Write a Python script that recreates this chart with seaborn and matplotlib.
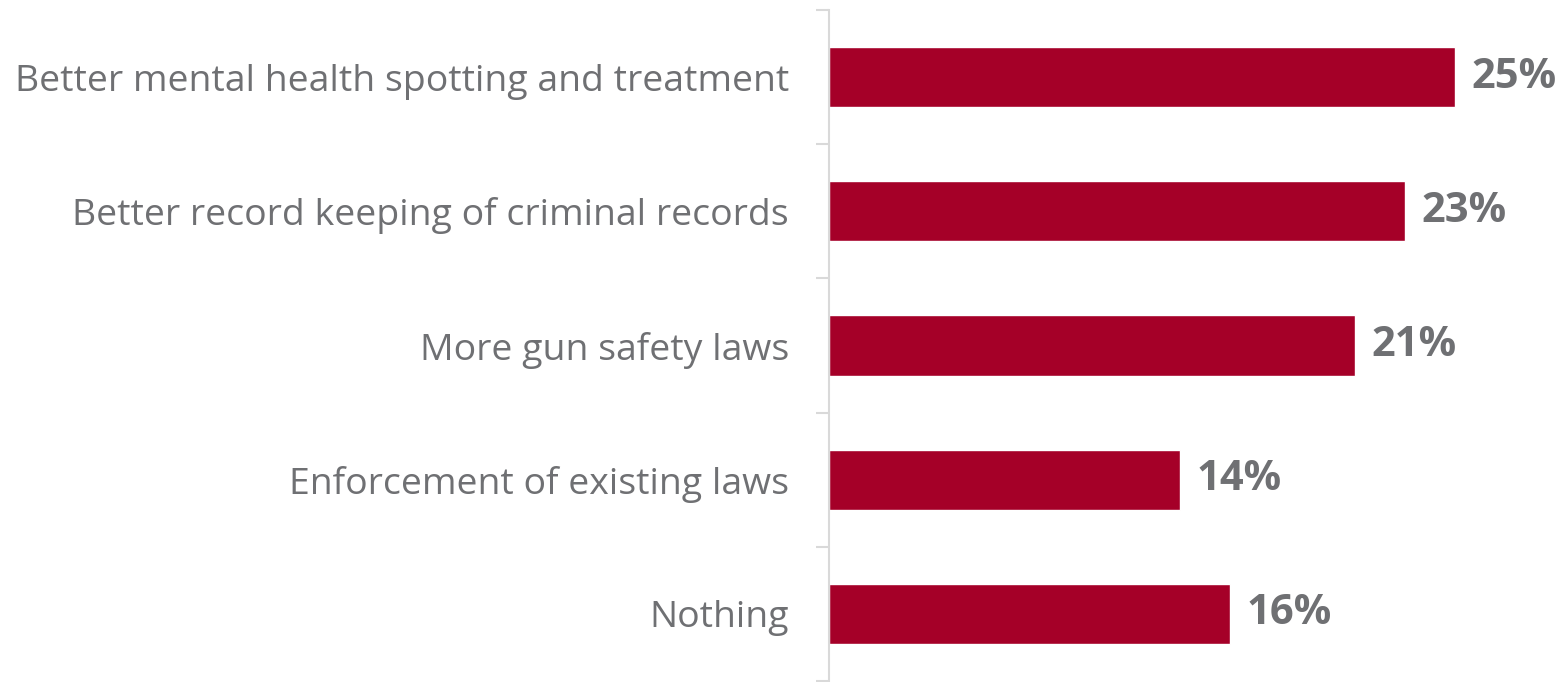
import matplotlib
matplotlib.use("Agg")
import matplotlib.pyplot as plt
import seaborn as sns
import pandas as pd

# data
categories = [
    "Better mental health spotting and treatment",
    "Better record keeping of criminal records",
    "More gun safety laws",
    "Enforcement of existing laws",
    "Nothing",
]
values = [25, 23, 21, 14, 16]

BAR = "#A50028"
GREY = "#6F7073"
LINE = "#D9D9D9"

sns.set_theme(style="white")
plt.rcParams["font.family"] = ["Open Sans", "DejaVu Sans"]

df = pd.DataFrame({"answer": categories, "pct": values})

fig = plt.figure(figsize=(15.66, 6.82), dpi=100)
ax = fig.add_axes([829 / 1566, 1 / 682, 1 - 829 / 1566, 671 / 682])

sns.barplot(data=df, y="answer", x="pct", orient="h", color=BAR,
            width=0.45, saturation=1, ax=ax)

ax.set_xlim(0, 737 / 25.04)
ax.set_ylim(len(categories) - 0.5, -0.5)
ax.set_xlabel("")
ax.set_ylabel("")
ax.set_xticks([])

# value labels
for i, v in enumerate(values):
    ax.text(v + 0.66, i, f"{v}%", va="center", ha="left",
            fontsize=30, fontweight="bold", color=GREY)

# axis line and boundary ticks
for s in ["top", "right", "bottom"]:
    ax.spines[s].set_visible(False)
ax.spines["left"].set_color(LINE)
ax.spines["left"].set_linewidth(1.5)
ax.set_yticks([i - 0.5 for i in range(len(categories) + 1)], minor=True)
ax.tick_params(axis="y", which="minor", length=9.4, width=1.5, color=LINE, left=True)
ax.tick_params(axis="y", which="major", length=0, pad=28.8, labelsize=26.9,
               labelcolor=GREY)

fig.savefig("out.png", dpi=100)
